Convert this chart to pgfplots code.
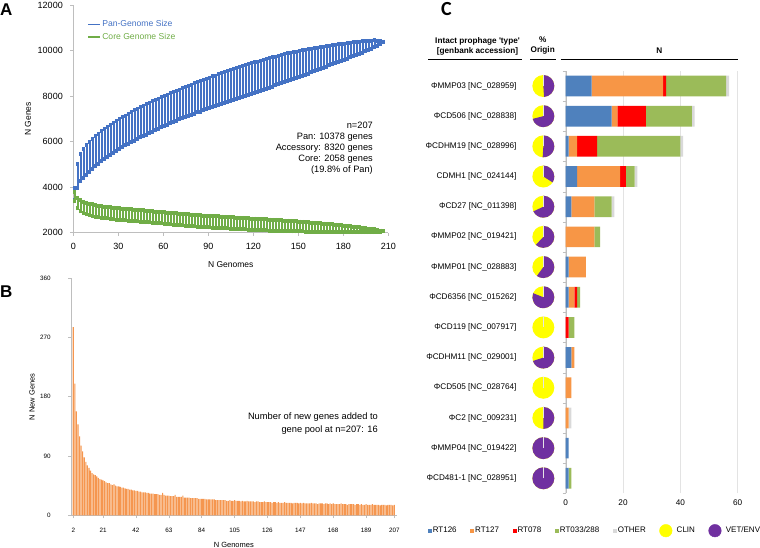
\documentclass[border=0pt]{standalone}
\usepackage{pgfplots}
\usepackage{pgfplotstable}
\pgfplotsset{compat=1.18}
\usepackage{fontspec}
\setmainfont{Liberation Sans}
\newfontfamily\calib{Carlito}
\definecolor{panblue}{RGB}{68,114,196}
\definecolor{coregreen}{RGB}{112,173,71}
\definecolor{barorange}{RGB}{245,150,79}
\definecolor{rtblue}{RGB}{79,129,189}
\definecolor{rtorange}{RGB}{247,150,70}
\definecolor{rtred}{RGB}{255,0,0}
\definecolor{rtgreen}{RGB}{155,187,89}
\definecolor{rtgray}{RGB}{217,217,217}
\definecolor{clin}{RGB}{255,255,0}
\definecolor{vet}{RGB}{112,48,160}
\definecolor{axgray}{RGB}{190,190,190}

\pgfplotstableread{
n pan perr core cerr
1 3700 250 3600 200
3 4480 520 3300 230
5 4850 600 3180 245
7 5030 630 3110 250
9 5188 645 3060 255
11 5327 655 3020 248
13 5454 650 2990 252
15 5573 662 2960 250
17 5684 655 2935 246
19 5789 660 2910 253
21 5889 652 2890 250
23 5983 665 2875 247
25 6076 658 2860 252
27 6164 662 2847 250
29 6248 655 2834 255
31 6330 660 2821 248
33 6410 668 2808 251
35 6487 655 2796 250
37 6563 662 2784 254
39 6636 657 2772 248
41 6707 664 2761 252
43 6777 658 2750 250
45 6847 661 2738 247
47 6912 655 2725 253
49 6978 666 2713 250
51 7044 659 2700 248
53 7104 663 2688 254
55 7168 657 2676 250
57 7227 665 2663 252
59 7287 660 2651 247
61 7348 662 2638 251
63 7403 656 2626 250
65 7463 667 2615 253
67 7520 660 2605 249
69 7574 664 2594 252
71 7630 658 2584 250
73 7682 666 2573 247
75 7735 661 2563 253
77 7788 669 2552 250
79 7839 662 2542 248
81 7890 667 2531 252
83 7942 660 2521 250
85 7991 670 2510 254
87 8040 664 2500 249
89 8090 671 2492 251
91 8140 665 2484 250
93 8187 673 2476 253
95 8235 668 2469 248
97 8282 675 2461 252
99 8326 670 2453 250
101 8374 678 2445 247
103 8419 672 2437 251
105 8464 680 2429 250
107 8510 675 2421 253
109 8552 682 2414 248
111 8598 676 2406 250
113 8641 680 2398 252
115 8683 674 2390 249
117 8726 678 2382 250
119 8769 672 2374 248
121 8813 670 2368 247
123 8853 664 2361 246
125 8898 662 2355 244
127 8937 655 2348 243
129 8978 650 2342 241
131 9018 645 2336 240
133 9059 640 2329 238
135 9100 632 2323 237
137 9137 628 2316 235
139 9179 622 2310 233
141 9216 618 2304 231
143 9258 612 2297 228
145 9296 602 2291 225
147 9333 594 2285 222
149 9371 583 2278 219
151 9410 572 2272 216
153 9448 558 2265 212
155 9482 546 2259 208
157 9520 532 2252 204
159 9560 520 2246 200
161 9594 505 2240 196
163 9634 490 2233 191
165 9668 476 2226 186
167 9703 460 2219 181
169 9743 446 2212 176
171 9778 430 2205 170
173 9813 416 2198 165
175 9849 400 2191 159
177 9884 386 2184 153
179 9914 370 2177 147
181 9950 355 2170 141
183 9987 338 2163 134
185 10023 320 2157 127
187 10054 303 2150 120
189 10090 285 2141 113
191 10121 265 2132 105
193 10159 246 2122 97
195 10190 224 2113 88
197 10221 200 2104 79
199 10259 176 2095 68
201 10291 150 2086 56
203 10323 115 2077 42
205 10355 70 2067 24
207 10378 0 2058 0
}\pangenome

\pgfplotstableread{
n new
2 286
3 200
4 158
5 138
6 120
7 106
8 97
9 88
10 81
11 76
12 72
13 68
14 64
15 62
16 61
17 59
18 57
19 55
20 54
21 53
22 52
23 50
24 49
25 49
26 47
27 46
28 47
29 45
30 44
31 44
32 43
33 42
34 42
35 41
36 40
37 40
38 39
39 39
40 38
41 38
42 37
43 37
44 36
45 36
46 35
47 35
48 35
49 34
50 34
51 33
52 33
53 33
54 32
55 32
56 32
57 31
58 31
59 34
60 31
61 30
62 30
63 30
64 29
65 29
66 29
67 31
68 28
69 28
70 28
71 28
72 30
73 27
74 27
75 27
76 27
77 26
78 26
79 26
80 26
81 26
82 25
83 25
84 25
85 25
86 25
87 24
88 24
89 24
90 24
91 24
92 24
93 23
94 23
95 23
96 23
97 23
98 23
99 23
100 22
101 22
102 23
103 22
104 22
105 23
106 22
107 22
108 22
109 21
110 22
111 21
112 21
113 22
114 21
115 21
116 21
117 21
118 20
119 21
120 21
121 20
122 20
123 20
124 21
125 20
126 20
127 20
128 20
129 19
130 20
131 20
132 19
133 20
134 19
135 19
136 19
137 20
138 19
139 19
140 19
141 19
142 18
143 19
144 19
145 19
146 18
147 19
148 18
149 19
150 18
151 18
152 18
153 18
154 19
155 18
156 18
157 18
158 17
159 18
160 18
161 18
162 17
163 18
164 18
165 17
166 18
167 17
168 18
169 17
170 17
171 17
172 17
173 18
174 17
175 17
176 17
177 16
178 17
179 17
180 17
181 17
182 16
183 17
184 17
185 16
186 17
187 16
188 16
189 17
190 16
191 16
192 16
193 17
194 16
195 16
196 16
197 16
198 15
199 16
200 16
201 16
202 15
203 16
204 16
205 16
206 15
207 16
}\newgenes

% rows: 0 = bottom (PhiCD481-1) ... 13 = top (PhiMMP03)
\pgfplotstableread{
row rt126 rt127 rt078 rt033 other
0 1 0 0 1 0
1 1 0 0 0 0
2 0 1 0 0 1
3 0 2 0 0 0
4 2 1 0 0 0
5 0 0 1 2 0
6 1 2 1 1 0
7 1 6 0 0 0
8 0 10 0 2 0
9 2 8 0 6 1
10 4 15 2 3 1
11 1 3 7 29 1
12 16 2 10 16 1
13 9 25 1 21 1
}\prophage

\begin{document}
\begin{tikzpicture}[x=1pt,y=1pt]
\useasboundingbox (0,0) rectangle (760,548);

% ---------------- Panel A ----------------
\begin{axis}[
  at={(73.3pt,315.3pt)}, anchor=south west,
  scale only axis, width=315pt, height=227.7pt,
  xmin=0, xmax=210, ymin=2000, ymax=12000,
  xtick={0,30,...,210}, ytick={2000,4000,...,12000},
  axis lines=left, axis line style={axgray,-},
  tick style={axgray,line width=0.6pt}, tick align=outside, major tick length=3pt,
  /pgf/number format/assume math mode=true,
  /pgf/number format/1000 sep={},
  scaled y ticks=false,
  every tick label/.append style={font=\fontsize{9}{10}\selectfont},
  yticklabel style={xshift=-4pt},
  xticklabel style={yshift=-4pt},
  xlabel={N Genomes}, ylabel={N Genes},
  label style={font=\fontsize{8.5}{10}\selectfont},
  xlabel style={at={(axis description cs:0.5,-0.14)}, anchor=center},
  ylabel style={at={(axis description cs:-0.144,0.5)}, anchor=center},
  clip=false,
  legend style={at={(0.045,0.94)}, anchor=north west, draw=none, fill=none,
    inner sep=0pt, row sep=2pt, font=\fontsize{8.6}{10}\selectfont,
    nodes={inner sep=1.5pt}},
  legend cell align=left,
]
\addplot[only marks, mark=*, mark options={draw opacity=0, fill opacity=0},
  legend image code/.code={\draw[panblue,line width=1.1pt] (0pt,0pt) -- (12pt,0pt);},
  error bars/.cd, y dir=both, y explicit,
  error bar style={draw=panblue, line width=1.9pt},
  error mark=-,
  error mark options={draw=panblue, draw opacity=1, mark size=2pt, line width=3pt}]
  table[x=n, y=pan, y error=perr]{\pangenome};
\addlegendentry{\textcolor{panblue}{Pan-Genome Size}}
\addplot[only marks, mark=*, mark options={draw opacity=0, fill opacity=0},
  legend image code/.code={\draw[coregreen,line width=1.1pt] (0pt,0pt) -- (12pt,0pt);},
  error bars/.cd, y dir=both, y explicit,
  error bar style={draw=coregreen, line width=1.9pt},
  error mark=-,
  error mark options={draw=coregreen, draw opacity=1, mark size=2pt, line width=3pt}]
  table[x=n, y=core, y error=cerr]{\pangenome};
\addlegendentry{\textcolor{coregreen}{Core Genome Size}}
\end{axis}

\node[anchor=north east, align=right, inner sep=0pt, font=\fontsize{9.25}{11}\selectfont]
  at (373,548-122) {n=207\\Pan: 10378 genes\\Accessory: 8320 genes\\Core: 2058 genes\\(19.8\% of Pan)};
\node[anchor=north west, inner sep=0pt, font=\fontsize{17}{17}\selectfont\bfseries] at (0,548-4) {A};

% ---------------- Panel B ----------------
\begin{axis}[
  at={(71.1pt,32.7pt)}, anchor=south west,
  scale only axis, width=325.4pt, height=237pt,
  xmin=0.6, xmax=208.4, ymin=0, ymax=360,
  ytick={0,90,...,360}, xtick={2,21,42,63,84,105,126,147,168,189,207},
  ybar, bar width=1.1pt,
  axis lines=left, axis line style={axgray,-},
  tick style={axgray,line width=0.6pt}, tick align=outside, major tick length=3pt,
  /pgf/number format/assume math mode=true,
  every tick label/.append style={font=\fontsize{6.3}{7}\selectfont},
  yticklabel style={xshift=-14pt},
  xticklabel style={yshift=-6pt},
  xlabel={N Genomes}, ylabel={N New Genes},
  label style={font=\fontsize{7.5}{9}\selectfont},
  xlabel style={at={(axis description cs:0.5,-0.125)}, anchor=center},
  ylabel style={at={(axis description cs:-0.12,0.5)}, anchor=center},
  clip=false,
]
\addplot[fill=barorange, draw=none] table[x=n, y=new]{\newgenes};
\end{axis}
\node[anchor=north east, align=right, inner sep=0pt, font=\fontsize{9.3}{13}\selectfont]
  at (378,548-413) {Number of new genes added to\\gene pool at n=207: 16};
\node[anchor=north west, inner sep=0pt, font=\fontsize{17}{17}\selectfont\bfseries] at (0,548-286) {B};

% ---------------- Panel C ----------------
\begin{axis}[
  at={(565.7pt,54.6pt)}, anchor=south west,
  scale only axis, width=172pt, height=422.5pt,
  xmin=0, xmax=60, ymin=-0.5, ymax=13.5,
  xbar stacked, bar width=20.7pt,
  xtick={0,20,40,60}, ytick={0,...,13},
  yticklabels={{ΦCD481-1 [NC\_028951]},{ΦMMP04 [NC\_019422]},{ΦC2 [NC\_009231]},
    {ΦCD505 [NC\_028764]},{ΦCDHM11 [NC\_029001]},{ΦCD119 [NC\_007917]},
    {ΦCD6356 [NC\_015262]},{ΦMMP01 [NC\_028883]},{ΦMMP02 [NC\_019421]},
    {ΦCD27 [NC\_011398]},{CDMH1 [NC\_024144]},{ΦCDHM19 [NC\_028996]},
    {ΦCD506 [NC\_028838]},{ΦMMP03 [NC\_028959]}},
  minor ytick={-0.5,0.5,...,13.5},
  axis x line*=bottom, axis y line*=left,
  x axis line style={draw=none}, y axis line style={axgray,-},
  xtick style={draw=none},
  major tick length=0pt, minor tick length=3pt, tick align=outside,
  minor tick style={axgray},
  xmajorgrids, grid style={gray!22, line width=0.6pt},
  /pgf/number format/assume math mode=true,
  every tick label/.append style={font=\fontsize{8.2}{9}\selectfont},
  yticklabel style={anchor=east, inner sep=0pt, xshift=-49pt},
  xticklabel style={yshift=-3pt},
  clip=false,
  legend image code/.code={\draw[#1,draw=none] (0pt,-2pt) rectangle (4pt,2pt);},
  legend style={at={(-0.803,-0.0883)}, anchor=west, draw=none, fill=none,
    legend columns=-1, inner sep=0pt, font=\fontsize{8}{9}\selectfont,
    nodes={inner sep=1pt},
    /tikz/every even column/.append style={column sep=12.5pt}},
]
\addplot[fill=rtblue, draw=none] table[x=rt126, y=row]{\prophage};
\addlegendentry{RT126}
\addplot[fill=rtorange, draw=none] table[x=rt127, y=row]{\prophage};
\addlegendentry{RT127}
\addplot[fill=rtred, draw=none] table[x=rt078, y=row]{\prophage};
\addlegendentry{RT078}
\addplot[fill=rtgreen, draw=none] table[x=rt033, y=row]{\prophage};
\addlegendentry{RT033/288}
\addplot[fill=rtgray, draw=none] table[x=other, y=row]{\prophage};
\addlegendentry{OTHER}
\addlegendimage{legend image code/.code={\fill[clin] (6.3pt,0pt) circle[radius=6.3pt];\path (16pt,0pt);}}
\addlegendentry{CLIN}
\addlegendimage{legend image code/.code={\fill[vet] (6.3pt,0pt) circle[radius=6.3pt];\path (16pt,0pt);}}
\addlegendentry{VET/ENV}
\pgfplotsinvokeforeach{0,...,13}{\coordinate (pie#1) at (axis cs:-7.8,#1);}
\end{axis}

% pies: fraction VET/ENV (purple), rest CLIN (yellow)
\foreach \k/\f in {13/0.49,12/0.71,11/0.51,10/0.34,9/0.68,8/0.62,7/0.60,6/0.81,5/0,4/0.70,3/0,2/0.5,1/1,0/1}{
  \fill[clin] (pie\k) circle[radius=11pt];
  \fill[vet] (pie\k) -- ++(90:11pt) arc[start angle=90, end angle={90-360*\f}, radius=11pt] -- cycle;
  \draw[white!80!gray, line width=0.4pt] (pie\k) -- ++(90:11pt);
}

% headers
\node[font=\fontsize{8.2}{10}\selectfont\bfseries, align=center, inner sep=0pt] at (477.5,548-46)
  {Intact prophage \textquotesingle type\textquotesingle\\{}[genbank accession]};
\node[font=\fontsize{8.2}{10}\selectfont\bfseries, align=center, inner sep=0pt] at (542.7,548-46)
  {\%\\Origin};
\node[font=\fontsize{8.2}{10}\selectfont\bfseries, inner sep=0pt] at (659.3,548-50.7) {N};
\draw[line width=1.3pt] (428,548-59.3) -- (522,548-59.3);
\draw[line width=1.3pt] (530,548-59.3) -- (556,548-59.3);
\draw[line width=1.3pt] (560.7,548-59.3) -- (738.3,548-59.3);
\node[anchor=north west, inner sep=0pt, font=\fontsize{20}{20}\selectfont\calib\bfseries] at (441,548-2) {C};
\end{tikzpicture}
\end{document}
